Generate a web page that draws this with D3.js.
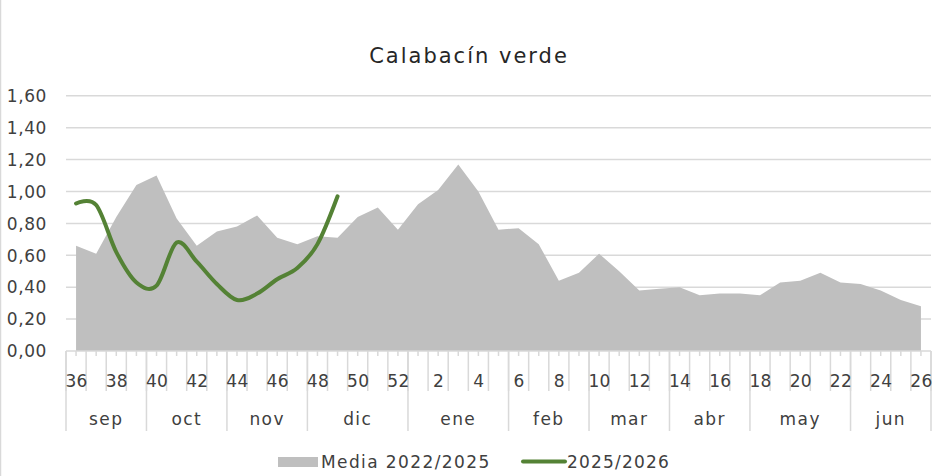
<!DOCTYPE html>
<html>
<head>
<meta charset="utf-8">
<script src="https://cdn.jsdelivr.net/npm/d3@7/dist/d3.min.js"></script>
<style>
  html, body { margin: 0; padding: 0; background: #fff; }
  svg { display: block; }
  text { font-family: "DejaVu Sans", sans-serif; fill: #404040; }
</style>
</head>
<body>
<svg id="chart" width="932" height="476"></svg>
<script>
// ---- data ----
const weeks = ["36","37","38","39","40","41","42","43","44","45","46","47","48","49","50","51","52",
  "1","2","3","4","5","6","7","8","9","10","11","12","13","14","15","16","17","18","19","20","21","22","23","24","25","26"];
const media = [0.66,0.61,0.84,1.04,1.10,0.83,0.66,0.75,0.78,0.85,0.71,0.67,0.72,0.71,0.84,0.90,0.76,
  0.92,1.01,1.17,1.00,0.76,0.77,0.67,0.44,0.49,0.61,0.50,0.38,0.39,0.40,0.35,0.36,0.36,0.35,0.43,0.44,0.49,0.43,0.42,0.38,0.32,0.28];
const season = [0.925,0.915,0.62,0.43,0.41,0.68,0.56,0.42,0.32,0.36,0.45,0.52,0.67,0.97];
const months = ["sep","oct","nov","dic","ene","feb","mar","abr","may","jun"];
const monthWeeks = [4,4,4,5,5,4,4,4,5,4];
const yTicks = [0,0.2,0.4,0.6,0.8,1.0,1.2,1.4,1.6];
const title = "Calabacín verde";
const seriesNames = ["Media 2022/2025","2025/2026"];

// ---- layout ----
const svg = d3.select("#chart");
const X0 = 66, X1 = 931, Y0 = 351, Y1 = 95.8;
const x = d3.scaleBand().domain(d3.range(weeks.length)).range([X0, X1]).paddingInner(0).paddingOuter(0);
const bw = x.bandwidth();
const cx = i => x(i) + bw / 2;
const y = d3.scaleLinear().domain([0, 1.6]).range([Y0, Y1]);
const fmt = v => d3.format(".2f")(v).replace(".", ",");
const gridColor = "#d9d9d9";

// left chart border
svg.append("line").attr("x1", 0.5).attr("x2", 0.5).attr("y1", 0).attr("y2", 476)
  .attr("stroke", gridColor).attr("stroke-width", 1.5);

// title
svg.append("text").attr("x", 469).attr("y", 63).attr("text-anchor", "middle")
  .style("font-size", "21px").style("letter-spacing", "2px").style("fill", "#262626").text(title);

// gridlines
svg.append("g").selectAll("line").data(yTicks.filter(d => d > 0)).join("line")
  .attr("x1", X0).attr("x2", X1).attr("y1", d => y(d)).attr("y2", d => y(d))
  .attr("stroke", gridColor).attr("stroke-width", 1.5);

// y labels
svg.append("g").selectAll("text").data(yTicks).join("text")
  .attr("x", 47).attr("y", d => y(d) + 6.2).attr("text-anchor", "end")
  .style("font-size", "17px").style("letter-spacing", "0.6px").text(fmt);

// area
const area = d3.area().x((d, i) => cx(i)).y0(y(0)).y1(d => y(d));
svg.append("path").datum(media).attr("d", area).attr("fill", "#bfbfbf");

// x axis line
svg.append("line").attr("x1", X0).attr("x2", X1).attr("y1", Y0).attr("y2", Y0)
  .attr("stroke", gridColor).attr("stroke-width", 1.5);

// small ticks at category centres
svg.append("g").selectAll("line").data(d3.range(weeks.length)).join("line")
  .attr("x1", i => cx(i)).attr("x2", i => cx(i)).attr("y1", Y0).attr("y2", Y0 + 5)
  .attr("stroke", gridColor).attr("stroke-width", 1.5);

// category dividers
svg.append("g").selectAll("line").data(d3.range(weeks.length + 1)).join("line")
  .attr("x1", i => X0 + i * bw).attr("x2", i => X0 + i * bw).attr("y1", Y0).attr("y2", Y0 + 40)
  .attr("stroke", gridColor).attr("stroke-width", 1.5);

// month dividers
const monthStarts = [0];
monthWeeks.forEach((n, i) => monthStarts.push(monthStarts[i] + n));
svg.append("g").selectAll("line").data(monthStarts).join("line")
  .attr("x1", i => X0 + i * bw).attr("x2", i => X0 + i * bw).attr("y1", Y0).attr("y2", Y0 + 80)
  .attr("stroke", gridColor).attr("stroke-width", 1.5);

// week labels (every second)
svg.append("g").selectAll("text").data(d3.range(0, weeks.length, 2)).join("text")
  .attr("x", i => cx(i) + 0.5).attr("y", 386.5).attr("text-anchor", "middle")
  .style("font-size", "17px").style("letter-spacing", "0.3px").text(i => weeks[i]);

// month labels
svg.append("g").selectAll("text").data(months).join("text")
  .attr("x", (m, i) => X0 + (monthStarts[i] + monthWeeks[i] / 2) * bw).attr("y", 425)
  .attr("text-anchor", "middle").style("font-size", "17px").style("letter-spacing", "1.4px").text(d => d);

// season line
const line = d3.line().x((d, i) => cx(i)).y(d => y(d)).curve(d3.curveCatmullRom.alpha(0));
svg.append("path").datum(season).attr("d", line).attr("fill", "none")
  .attr("stroke", "#548235").attr("stroke-width", 4).attr("stroke-linecap", "round");

// legend
const lg = svg.append("g");
lg.append("rect").attr("x", 278).attr("y", 457).attr("width", 40).attr("height", 10).attr("fill", "#bfbfbf");
lg.append("text").attr("x", 321).attr("y", 467.5).style("font-size", "17px").style("letter-spacing", "1.4px").text(seriesNames[0]);
lg.append("line").attr("x1", 523).attr("x2", 565).attr("y1", 461.5).attr("y2", 461.5)
  .attr("stroke", "#548235").attr("stroke-width", 4).attr("stroke-linecap", "round");
lg.append("text").attr("x", 567).attr("y", 467.5).style("font-size", "17px").style("letter-spacing", "1.2px").text(seriesNames[1]);
</script>
</body>
</html>
